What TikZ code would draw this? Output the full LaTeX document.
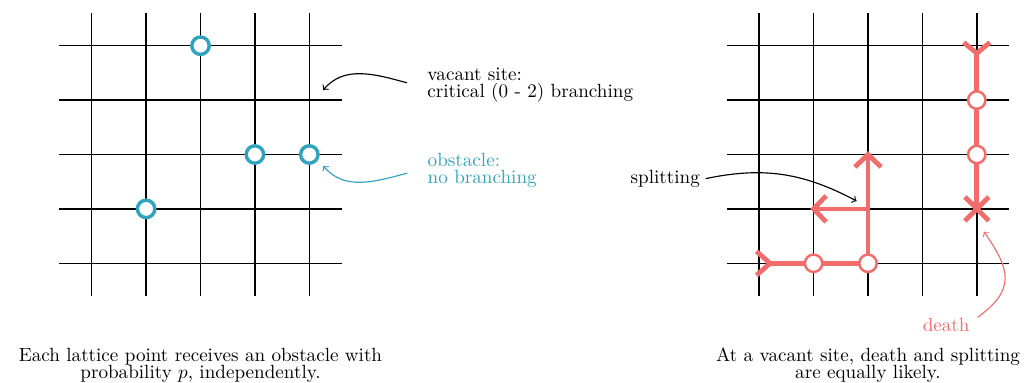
\documentclass[tikz,border=0pt]{standalone}
\usetikzlibrary{arrows,calc}

\definecolor{obstcol}{RGB}{48,163,190}
\definecolor{branchcol}{RGB}{242,108,108}

\tikzset{
  gridline/.style={line width=0.75pt},
  obstacle/.style={circle, draw=obstcol, line width=1.8pt, fill=white, minimum size=0.32cm, inner sep=0pt},
  vacant/.style={circle, draw=branchcol, line width=1.3pt, fill=white, minimum size=0.32cm, inner sep=0pt},
  branch/.style={draw=branchcol, line width=2.5pt},
  note/.style={inner sep=0pt, anchor=base west},
  caption/.style={inner sep=0pt, anchor=base},
  pointer/.style={->, semithick},
}

\begin{document}
\begin{tikzpicture}
  \useasboundingbox (-1.686,-2.2) rectangle (17.138,4.84);

  % the two lattices
  \foreach \ox/\g in {0/L,12.27/R}{
    \foreach \k in {0,...,4}{
      \draw[gridline] (\ox+\k,-0.6) -- (\ox+\k,4.6);
      \draw[gridline] (\ox-0.6,\k) -- (\ox+4.6,\k);
    }
    \foreach \i in {0,...,4}
      \foreach \j in {0,...,4}
        \coordinate (\g\i\j) at (\ox+\i,\j);
  }

  % obstacles
  \foreach \n/\p in {a/L24,b/L32,c/L42,d/L11}
    \node[obstacle] (obst-\n) at (\p) {};

  % branching walk on the right lattice
  \coordinate (tail1) at ($ (R00)+(0.2,0) $);
  \coordinate (tail2) at ($ (R44)+(0,-0.14) $);
  \draw[branch] (tail1) -- (R20) -- (R22);
  \draw[branch] (R21) -- (R11);
  \draw[branch] (tail2) -- (R41);

  \draw[branch] ($ (R00)+(-0.05,0.22) $) -- (tail1) -- ($ (R00)+(-0.05,-0.22) $);
  \draw[branch] ($ (R44)+(-0.24,0.06) $) -- (tail2) -- ($ (R44)+(0.24,0.06) $);
  \draw[branch] ($ (R22)+(-0.24,-0.23) $) -- (R22) -- ($ (R22)+(0.24,-0.23) $);
  \draw[branch] ($ (R11)+(0.23,0.24) $) -- (R11) -- ($ (R11)+(0.23,-0.24) $);
  \draw[branch] ($ (R41)+(-0.22,-0.22) $) -- ($ (R41)+(0.22,0.22) $)
                ($ (R41)+(-0.22,0.22) $) -- ($ (R41)+(0.22,-0.22) $);

  \foreach \p in {R10,R20,R43,R42}
    \node[vacant] (site-\p) at (\p) {};

  % labels
  \node[note] (vac) at (6.164,3.357)
    {\begin{tabular}[t]{@{}l@{}}vacant site:\\[-3.3pt]critical (0 - 2) branching\end{tabular}};
  \node[note, text=obstcol] (obs) at (6.17,1.776)
    {\begin{tabular}[t]{@{}l@{}}obstacle:\\[-3.3pt]no branching\end{tabular}};
  \node[note] (split) at (9.9,1.47) {splitting};
  \node[note, text=branchcol] (dead) at (15.27,-1.245) {death};

  \coordinate (vac-tip) at (4.257,3.186);
  \coordinate (obs-tip) at (4.257,1.789);
  \coordinate (split-tip) at (14.06,1.145);
  \coordinate (dead-tip) at (16.40,0.581);

  \draw[pointer] ([xshift=-0.37cm,yshift=0.03cm]vac.west) to[out=165,in=50] (vac-tip);
  \draw[pointer, obstcol] ([xshift=-0.37cm,yshift=-0.05cm]obs.west) to[out=195,in=-50] (obs-tip);
  \draw[pointer] ([xshift=0.1cm]split.east) to[out=12,in=152] (split-tip);
  \draw[pointer, branchcol] ([xshift=0.14cm]dead.north east) to[out=36,in=-55,looseness=1.4] (dead-tip);

  % captions
  \node[caption] (capL) at (2,-1.81)
    {\begin{tabular}[t]{@{}c@{}}Each lattice point receives an obstacle with\\[-3pt]probability $p$, independently.\end{tabular}};
  \node[caption] (capR) at (14.27,-1.81)
    {\begin{tabular}[t]{@{}c@{}}At a vacant site, death and splitting\\[-3pt]are equally likely.\end{tabular}};

\end{tikzpicture}
\end{document}
